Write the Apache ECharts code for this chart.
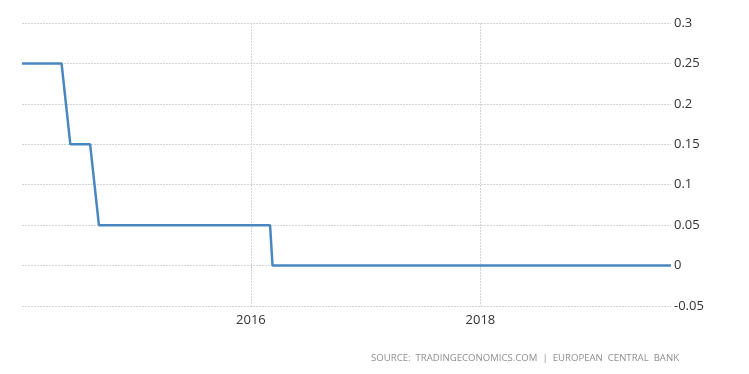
<!DOCTYPE html>
<html>
<head>
<meta charset="utf-8">
<script src="https://cdn.jsdelivr.net/npm/echarts@6/dist/echarts.min.js"></script>
<style>
html,body{margin:0;padding:0;background:#fff;}
#chart{width:749px;height:374px;}
</style>
</head>
<body>
<div id="chart"></div>
<script>
// Dates of observations (ECB meetings) and the rate (%)
const dates = [
  '2014-01-02','2014-02-06','2014-03-06','2014-04-03','2014-05-08',
  '2014-06-05','2014-07-03','2014-08-07',
  '2014-09-04','2014-10-02','2014-11-06','2014-12-04','2015-01-22','2015-03-05',
  '2015-04-15','2015-06-03','2015-07-16','2015-09-03','2015-10-22','2015-12-03',
  '2016-01-21','2016-03-02',
  '2016-03-10','2016-04-21','2016-06-02','2016-07-21','2016-09-08','2016-10-20',
  '2016-12-08','2017-01-19','2017-03-09','2017-04-27','2017-06-08','2017-07-20',
  '2017-09-07','2017-10-26','2017-12-14','2018-01-25','2018-03-08','2018-04-26',
  '2018-06-14','2018-07-26','2018-09-13','2018-10-25','2018-12-13','2019-01-24',
  '2019-03-07','2019-04-10','2019-06-06','2019-07-25','2019-08-31'
];
const values = [
  0.25,0.25,0.25,0.25,0.25,
  0.15,0.15,0.15,
  0.05,0.05,0.05,0.05,0.05,0.05,
  0.05,0.05,0.05,0.05,0.05,0.05,
  0.05,0.05,
  0,0,0,0,0,0,
  0,0,0,0,0,0,
  0,0,0,0,0,0,
  0,0,0,0,0,0,
  0,0,0,0,0
];
const xTickDates = ['2016-01-01','2018-01-01'];
const yTicks = [-0.05,0,0.05,0.1,0.15,0.2,0.25,0.3];
const sourceText = 'SOURCE:  TRADINGECONOMICS.COM  |  EUROPEAN  CENTRAL  BANK';

const toMs = d => Date.parse(d + 'T00:00:00Z');
const chart = echarts.init(document.getElementById('chart'), null, {renderer:'canvas'});
const seriesData = dates.map((d,i)=>[toMs(d), values[i]]);
const xTickVals = xTickDates.map(toMs);

chart.setOption({
  animation:false,
  backgroundColor:'#ffffff',
  textStyle:{fontFamily:'Open Sans'},
  grid:{left:22, right:78, top:23, bottom:68, containLabel:false},
  xAxis:{
    type:'value',
    min:seriesData[0][0], max:seriesData[seriesData.length-1][0],
    axisLine:{show:false},
    axisTick:{show:true, customValues:xTickVals, length:3, lineStyle:{color:'#cccccc'}},
    axisLabel:{customValues:xTickVals, color:'#333333', fontSize:13, fontFamily:'Open Sans', margin:8,
      formatter:(v)=>String(new Date(v).getUTCFullYear())},
    splitLine:{show:true, lineStyle:{color:'#d4d4d4', type:[2,1], width:1}}
  },
  yAxis:{
    type:'value', position:'right',
    min:yTicks[0], max:yTicks[yTicks.length-1], interval:0.05,
    axisLine:{show:false}, axisTick:{show:false},
    axisLabel:{color:'#333333', fontSize:13, fontFamily:'Open Sans', margin:3,
      formatter:(v)=>String(Math.round(v*100)/100)},
    splitLine:{show:true, lineStyle:{color:'#d4d4d4', type:[2,1], width:1}}
  },
  graphic:[{
    type:'text', right:70, top:353,
    style:{text:sourceText, fill:'#8f8f8f', font:'9.6px "Open Sans"', textAlign:'right'}
  }],
  series:[{
    type:'line', data:seriesData, showSymbol:false, symbol:'none',
    lineStyle:{color:'#4a86c1', width:2.5},
    itemStyle:{color:'#4a86c1'}
  }]
});
</script>
</body>
</html>
